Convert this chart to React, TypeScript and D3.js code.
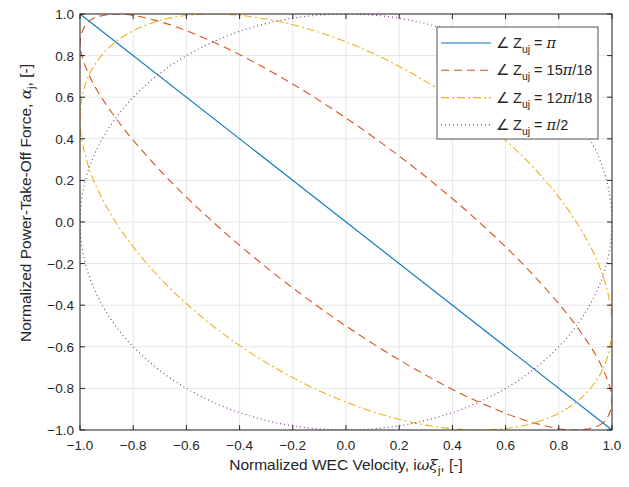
import React from "react";
import * as d3 from "d3";

const xTicks = [-1, -0.8, -0.6, -0.4, -0.2, 0, 0.2, 0.4, 0.6, 0.8, 1];
const yTicks = [-1, -0.8, -0.6, -0.4, -0.2, 0, 0.2, 0.4, 0.6, 0.8, 1];

const lineSeries: [number, number][] = [
  [-1, 1],
  [1, -1],
];

const ellipse150: [number, number][] = [
  [1, -0.866], [0.966, -0.966], [0.866, -1], [0.707, -0.966], [0.5, -0.866], [0.259, -0.707],
  [0, -0.5], [-0.259, -0.259], [-0.5, 0], [-0.707, 0.259], [-0.866, 0.5], [-0.966, 0.707],
  [-1, 0.866], [-0.966, 0.966], [-0.866, 1], [-0.707, 0.966], [-0.5, 0.866], [-0.259, 0.707],
  [0, 0.5], [0.259, 0.259], [0.5, 0], [0.707, -0.259], [0.866, -0.5], [0.966, -0.707],
];

const ellipse120: [number, number][] = [
  [1, -0.5], [0.966, -0.707], [0.866, -0.866], [0.707, -0.966], [0.5, -1], [0.259, -0.966],
  [0, -0.866], [-0.259, -0.707], [-0.5, -0.5], [-0.707, -0.259], [-0.866, 0], [-0.966, 0.259],
  [-1, 0.5], [-0.966, 0.707], [-0.866, 0.866], [-0.707, 0.966], [-0.5, 1], [-0.259, 0.966],
  [0, 0.866], [0.259, 0.707], [0.5, 0.5], [0.707, 0.259], [0.866, 0], [0.966, -0.259],
];

const circle90: [number, number][] = [
  [1, 0], [0.966, -0.259], [0.866, -0.5], [0.707, -0.707], [0.5, -0.866], [0.259, -0.966],
  [0, -1], [-0.259, -0.966], [-0.5, -0.866], [-0.707, -0.707], [-0.866, -0.5], [-0.966, -0.259],
  [-1, 0], [-0.966, 0.259], [-0.866, 0.5], [-0.707, 0.707], [-0.5, 0.866], [-0.259, 0.966],
  [0, 1], [0.259, 0.966], [0.5, 0.866], [0.707, 0.707], [0.866, 0.5], [0.966, 0.259],
];

const legendLabels = ["π", "15π/18", "12π/18", "π/2"];

const FONT = "'Liberation Sans', Arial, Helvetica, sans-serif";
const MATH = "'DejaVu Serif', 'Liberation Serif', serif";

export default function App() {
  const W = 629, H = 487;
  const L = 80, R = 612, T = 14, B = 430;
  const x = d3.scaleLinear().domain([-1, 1]).range([L, R]);
  const y = d3.scaleLinear().domain([-1, 1]).range([B, T]);

  const open = d3.line<[number, number]>().x((d) => x(d[0])).y((d) => y(d[1]));
  const closed = d3
    .line<[number, number]>()
    .x((d) => x(d[0]))
    .y((d) => y(d[1]))
    .curve(d3.curveCatmullRomClosed.alpha(0.5));

  const series = [
    { path: open(lineSeries), color: "#0072BD", dash: undefined as string | undefined },
    { path: closed(ellipse150), color: "#D95319", dash: "8,5" },
    { path: closed(ellipse120), color: "#EDB120", dash: "8,3,2,3" },
    { path: closed(circle90), color: "#7E2F8E", dash: "1,3" },
  ];

  const tickLen = 5;
  const legX = 437, legY = 27, legW = 161, legH = 112;
  const fmt = d3.format(".1f");

  return (
    <svg width={W} height={H} style={{ position: "absolute", left: 0, top: 0, background: "#fff" }}>
      <rect x={0} y={0} width={W} height={H} fill="#fff" />
      <defs>
        <clipPath id="plotclip">
          <rect x={L} y={T} width={R - L} height={B - T} />
        </clipPath>
      </defs>
      {xTicks.map((t, i) => (
        <line key={"gx" + i} x1={x(t)} x2={x(t)} y1={T} y2={B} stroke="#e6e6e6" strokeWidth={1} />
      ))}
      {yTicks.map((t, i) => (
        <line key={"gy" + i} x1={L} x2={R} y1={y(t)} y2={y(t)} stroke="#e6e6e6" strokeWidth={1} />
      ))}
      <g clipPath="url(#plotclip)">
        {series.map((s, i) => (
          <path key={i} d={s.path || ""} fill="none" stroke={s.color} strokeWidth={1.1} strokeDasharray={s.dash} />
        ))}
      </g>
      {xTicks.map((t, i) => (
        <g key={"tx" + i}>
          <line x1={x(t)} x2={x(t)} y1={B} y2={B - tickLen} stroke="#262626" />
          <line x1={x(t)} x2={x(t)} y1={T} y2={T + tickLen} stroke="#262626" />
          <text x={x(t)} y={B + 20} textAnchor="middle" fontFamily={FONT} fontSize={13.5} fill="#262626">
            {fmt(t)}
          </text>
        </g>
      ))}
      {yTicks.map((t, i) => (
        <g key={"ty" + i}>
          <line x1={L} x2={L + tickLen} y1={y(t)} y2={y(t)} stroke="#262626" />
          <line x1={R} x2={R - tickLen} y1={y(t)} y2={y(t)} stroke="#262626" />
          <text x={L - 6} y={y(t) + 5} textAnchor="end" fontFamily={FONT} fontSize={13.5} fill="#262626">
            {fmt(t)}
          </text>
        </g>
      ))}
      <rect x={L} y={T} width={R - L} height={B - T} fill="none" stroke="#262626" strokeWidth={1} />
      <text x={(L + R) / 2} y={470} textAnchor="middle" fontFamily={FONT} fontSize={15.5} fill="#262626">
        Normalized WEC Velocity, i
        <tspan fontFamily={MATH} fontStyle="italic">ωξ</tspan>
        <tspan fontSize={11} dy={4}>j</tspan>
        <tspan dy={-4}>, [-]</tspan>
      </text>
      <text
        transform={`translate(31, 203) rotate(-90)`}
        textAnchor="middle"
        fontFamily={FONT}
        fontSize={15.5}
        fill="#262626"
      >
        Normalized Power-Take-Off Force,{" "}
        <tspan fontFamily={MATH} fontStyle="italic">α</tspan>
        <tspan fontSize={11} dy={4}>j</tspan>
        <tspan dy={-4}>, [-]</tspan>
      </text>
      <rect x={legX} y={legY} width={legW} height={legH} fill="#fff" stroke="#262626" strokeWidth={0.8} />
      {series.map((s, i) => {
        const cy = 43 + i * 27.3;
        const parts = legendLabels[i].split("π");
        return (
          <g key={"lg" + i}>
            <line x1={441} x2={491} y1={cy} y2={cy} stroke={s.color} strokeWidth={1.1} strokeDasharray={s.dash} />
            <text x={496} y={cy + 5} fontFamily={FONT} fontSize={14.5} fill="#262626">
              ∠ Z<tspan fontSize={10.5} dy={5}>uj</tspan>
              <tspan dy={-5}> = {parts[0]}</tspan>
              <tspan fontFamily={MATH} fontStyle="italic">π</tspan>
              <tspan>{parts[1]}</tspan>
            </text>
          </g>
        );
      })}
    </svg>
  );
}
